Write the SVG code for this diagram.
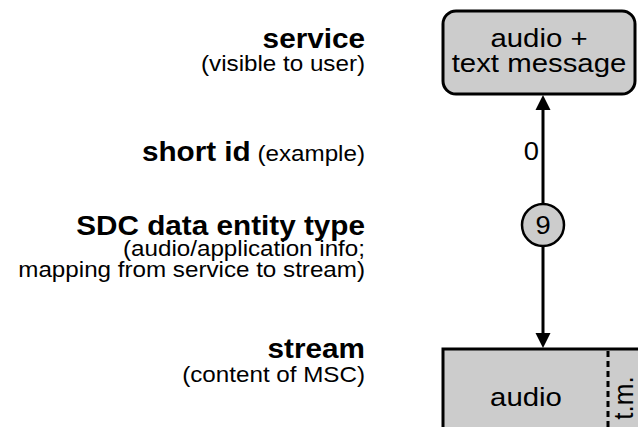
<svg xmlns="http://www.w3.org/2000/svg" width="638" height="427" viewBox="0 0 638 427">
<style>
.b{font-family:"Liberation Sans",Arial,sans-serif;font-weight:bold;font-size:27px;fill:#000}
.n{font-family:"Liberation Sans",Arial,sans-serif;font-size:22px;fill:#000}
.t{font-family:"Liberation Sans",Arial,sans-serif;font-size:26px;fill:#000}
.box{fill:#cccccc;stroke:#000;stroke-width:3}
.conn{stroke:#000;stroke-width:3;fill:none}
</style>
<defs>
<marker id="arr" markerUnits="userSpaceOnUse" viewBox="0 0 16 16" refX="0" refY="8" markerWidth="16" markerHeight="16" orient="auto">
<path d="M0,0.5 L15,8 L0,15.5 z" fill="#000"/>
</marker>
</defs>
<rect width="638" height="427" fill="#fff"/>
<g id="legend" transform="translate(365,0) scale(1.1,1)">
<text class="b" x="0" y="48" text-anchor="end">service</text>
<text class="n" x="0" y="71" text-anchor="end">(visible to user)</text>
<text x="0" y="161" text-anchor="end"><tspan class="b">short id</tspan><tspan class="n"> (example)</tspan></text>
<text class="b" x="0" y="235" text-anchor="end">SDC data entity type</text>
<text class="n" x="0" y="256" text-anchor="end">(audio/application info;</text>
<text class="n" x="0" y="277" text-anchor="end">mapping from service to stream)</text>
<text class="b" x="0" y="358" text-anchor="end">stream</text>
<text class="n" x="0" y="382" text-anchor="end">(content of MSC)</text>
</g>
<g id="connectors">
<path class="conn" d="M543,225 L543,110" marker-end="url(#arr)"/>
<path class="conn" d="M543,225 L543,333" marker-end="url(#arr)"/>
<text class="t" transform="translate(539,160) scale(1.05,1)" text-anchor="end">0</text>
</g>
<g id="service">
<rect class="box" x="443" y="11" width="192" height="83" rx="13" ry="13"/>
<text class="t" transform="translate(539,47) scale(1.13,1)" text-anchor="middle">audio +</text>
<text class="t" transform="translate(539,72) scale(1.13,1)" text-anchor="middle">text message</text>
</g>
<g id="entity">
<circle cx="543" cy="225" r="21" fill="#cccccc" stroke="#000" stroke-width="2.5"/>
<text class="t" transform="translate(543,234) scale(1.05,1)" text-anchor="middle">9</text>
</g>
<g id="stream">
<rect class="box" x="443" y="349" width="220" height="100"/>
<line x1="608" y1="351" x2="608" y2="427" stroke="#000" stroke-width="3" stroke-dasharray="6,4"/>
<text class="t" transform="translate(526,406) scale(1.13,1)" text-anchor="middle">audio</text>
<text class="t" transform="translate(633,398) rotate(-90) scale(1,1.05)" text-anchor="middle">t.m.</text>
</g>
</svg>
